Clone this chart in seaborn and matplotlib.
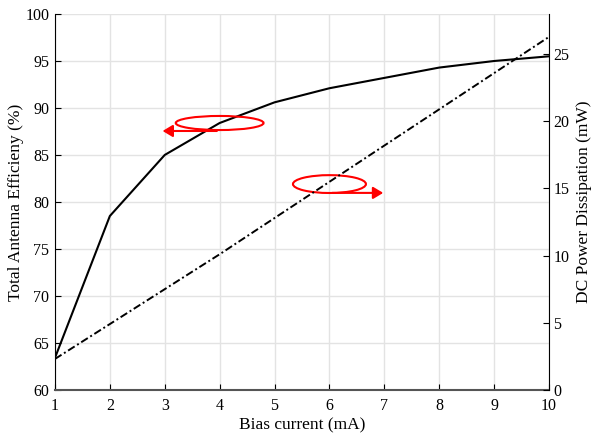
import matplotlib
matplotlib.use('Agg')
import matplotlib.pyplot as plt
import seaborn as sns
import pandas as pd
from matplotlib.patches import Ellipse

bias = [1, 2, 3, 4, 5, 6, 7, 8, 9, 10]
efficiency = [63.4, 78.5, 85.0, 88.4, 90.6, 92.1, 93.2, 94.3, 95.0, 95.5]
power = [2.3, 4.9, 7.5, 10.1, 12.8, 15.5, 18.2, 20.9, 23.6, 26.3]

df = pd.DataFrame({'Bias': bias, 'Eff': efficiency, 'Pdc': power})

sns.set_theme(style='whitegrid')
plt.rcParams['font.family'] = ['Liberation Serif', 'DejaVu Serif']
plt.rcParams['font.size'] = 11
plt.rcParams['grid.color'] = '#e3e3e3'

fig = plt.figure(figsize=(5.91, 4.38), dpi=100)
ax = fig.add_axes([0.093, 0.110, 0.836, 0.858])
ax.set_facecolor('white')

sns.lineplot(data=df, x='Bias', y='Eff', ax=ax, color='black', linewidth=1.5)
ax.set_xlim(1, 10)
ax.set_ylim(60, 100)
ax.set_xticks(range(1, 11))
ax.set_yticks(range(60, 101, 5))
ax.set_xlabel('Bias current (mA)', fontsize=12.5, color='black', labelpad=2)
ax.set_ylabel('Total Antenna Efficieny (%)', fontsize=12.5, color='black', labelpad=1)
ax.tick_params(axis='both', direction='in', length=4, width=0.8, colors='black',
               labelsize=11.5, left=True, bottom=True)
ax.tick_params(axis='x', pad=6)
ax.tick_params(axis='y', pad=4)
ax.spines['top'].set_visible(False)
ax.spines['right'].set_visible(False)
ax.spines['left'].set_color('black')
ax.spines['left'].set_linewidth(0.8)
ax.spines['bottom'].set_color('#555555')
ax.spines['bottom'].set_linewidth(1.5)

ax2 = ax.twinx()
sns.lineplot(data=df, x='Bias', y='Pdc', ax=ax2, color='black', linewidth=1.4,
             linestyle=(0, (4, 1.5, 1, 1.5)))
ax2.set_ylim(0, 28)
ax2.set_yticks(range(0, 26, 5))
ax2.grid(False)
ax2.set_ylabel('DC Power Dissipation (mW)', fontsize=12.5, color='black', labelpad=5)
ax2.tick_params(axis='y', direction='in', length=4, width=0.8, colors='black',
                labelsize=11.5, pad=3, right=True)
for s in ['top', 'left', 'bottom']:
    ax2.spines[s].set_visible(False)
ax2.spines['right'].set_color('black')
ax2.spines['right'].set_linewidth(0.8)

# red markers pointing to each axis
ax.add_patch(Ellipse((4.0, 88.4), 1.6, 1.5, fill=False, edgecolor='red', linewidth=1.5, zorder=5))
ax.annotate('', xy=(2.91, 87.55), xytext=(4.0, 87.55),
            arrowprops=dict(arrowstyle='-|>,head_length=0.5,head_width=0.3', color='red',
                            lw=1.5, mutation_scale=12), zorder=5)
ax.add_patch(Ellipse((6.0, 81.9), 1.33, 1.9, fill=False, edgecolor='red', linewidth=1.5, zorder=5))
ax.annotate('', xy=(7.03, 80.96), xytext=(6.0, 80.96),
            arrowprops=dict(arrowstyle='-|>,head_length=0.5,head_width=0.3', color='red',
                            lw=1.5, mutation_scale=12), zorder=5)

fig.savefig('out.png', dpi=100)
